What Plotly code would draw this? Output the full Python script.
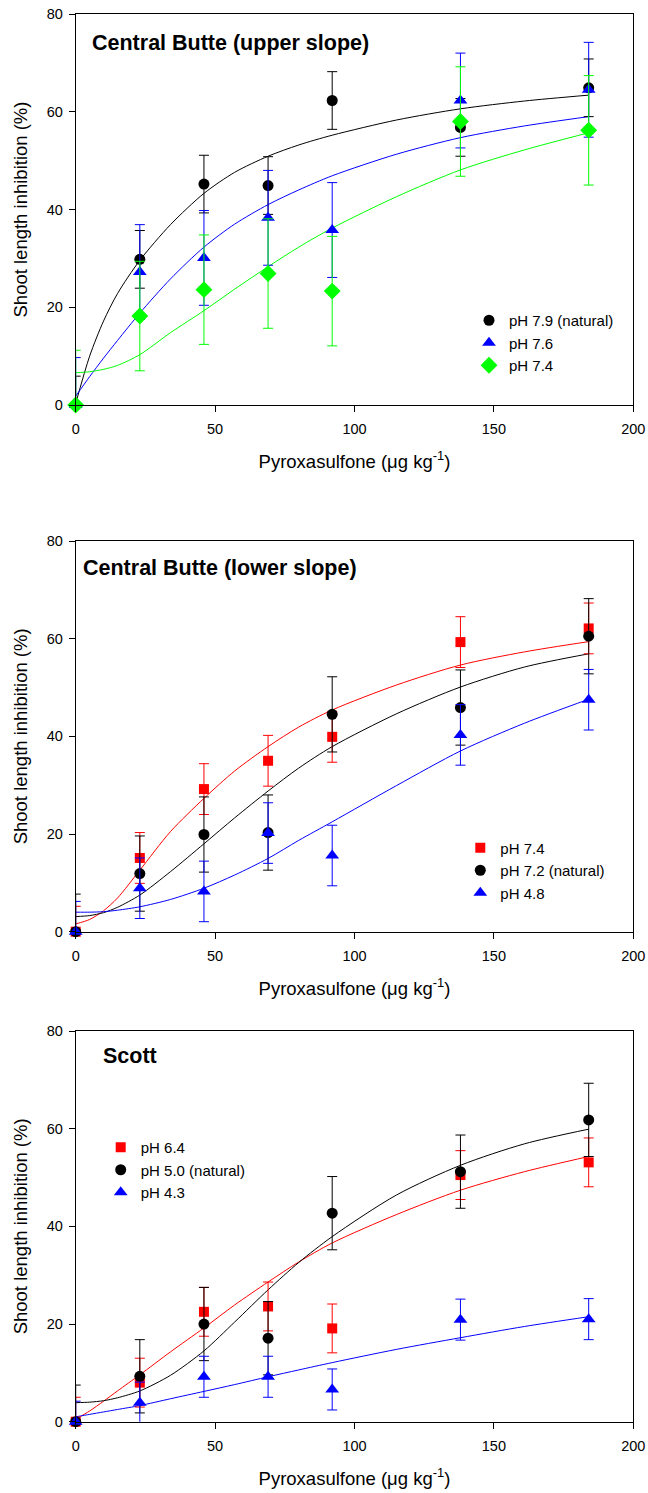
import plotly.graph_objects as go

# ---------------- data ----------------
dose = [0, 23, 46, 69, 92, 138, 184]
tick_x = [0, 50, 100, 150, 200]
tick_y = [0, 20, 40, 60, 80]

# Panel 1: Central Butte (upper slope)
p1_names = ["pH 7.9 (natural)", "pH 7.6", "pH 7.4"]
p1_black = [0, 29.8, 45.2, 44.9, 62.3, 56.8, 64.9]
p1_black_err = [5.9, 5.9, 5.9, 5.9, 5.9, 5.9, 5.9]
p1_blue = [0, 27.2, 30.1, 38.3, 35.8, 62.3, 64.5]
p1_blue_err = [9.7, 9.7, 9.7, 9.7, 9.7, 9.7, 9.7]
p1_green = [0, 18.2, 23.6, 26.9, 23.3, 58.0, 56.2]
p1_green_err = [11.2, 11.2, 11.2, 11.2, 11.2, 11.2, 11.2]

# Panel 2: Central Butte (lower slope)
p2_names = ["pH 7.4", "pH 7.2 (natural)", "pH 4.8"]
p2_red = [0, 15.1, 29.2, 35.0, 39.9, 59.3, 62.1]
p2_red_err = [5.2, 5.2, 5.2, 5.2, 5.2, 5.2, 5.2]
p2_black = [0, 11.9, 19.9, 20.3, 44.5, 45.9, 60.5]
p2_black_err = [7.7, 7.7, 7.7, 7.7, 7.7, 7.7, 7.7]
p2_blue = [0, 8.9, 8.25, 20.2, 15.6, 40.3, 47.5]
p2_blue_err = [6.2, 6.2, 6.2, 6.2, 6.2, 6.2, 6.2]

# Panel 3: Scott
p3_names = ["pH 6.4", "pH 5.0 (natural)", "pH 4.3"]
p3_red = [0, 8.0, 22.5, 23.6, 19.1, 50.5, 53.1]
p3_red_err = [5.0, 5.0, 5.0, 5.0, 5.0, 5.0, 5.0]
p3_black = [0, 9.3, 20.0, 17.1, 42.7, 51.2, 61.8]
p3_black_err = [7.5, 7.5, 7.5, 7.5, 7.5, 7.5, 7.5]
p3_blue = [0, 3.9, 9.2, 9.2, 6.6, 20.9, 21.0]
p3_blue_err = [4.2, 4.2, 4.2, 4.2, 4.2, 4.2, 4.2]

# fitted curves
curve_x = [0, 5, 10, 15, 23, 34, 46, 57, 69, 80, 92, 115, 138, 161, 184]
c1_black = [0.3, 10.0, 17.2, 22.8, 29.6, 36.9, 43.3, 47.6, 50.9, 53.2, 55.2, 58.3, 60.6, 62.2, 63.4]
c1_blue = [1.8, 5.8, 9.6, 13.2, 18.8, 25.8, 32.3, 37.0, 41.0, 44.0, 46.9, 51.3, 54.7, 57.1, 59.0]
c1_green = [6.6, 6.8, 7.3, 8.1, 10.3, 14.8, 19.3, 23.7, 28.3, 32.3, 36.2, 42.6, 48.1, 52.2, 55.7]
c2_red = [1.6, 2.5, 4.3, 6.9, 12.6, 20.5, 27.3, 32.9, 37.9, 41.9, 45.4, 50.5, 54.6, 57.3, 59.4]
c2_black = [3.1, 3.3, 3.9, 5.0, 7.5, 12.3, 18.0, 23.3, 28.8, 33.5, 37.9, 44.6, 50.1, 54.2, 56.9]
c2_blue = [4.0, 4.0, 4.1, 4.4, 5.1, 6.6, 8.9, 11.6, 15.0, 18.7, 22.5, 29.9, 37.0, 42.7, 47.6]
c3_red = [0.5, 2.2, 4.2, 6.3, 9.6, 14.3, 19.2, 23.9, 28.6, 32.7, 36.6, 42.4, 47.4, 51.2, 54.3]
c3_black = [3.9, 4.0, 4.3, 4.9, 6.3, 9.5, 14.5, 20.4, 27.0, 32.6, 37.9, 46.4, 52.5, 56.9, 59.9]
c3_blue = [1.0, 1.5, 2.0, 2.5, 3.3, 4.7, 6.2, 7.6, 9.2, 10.6, 12.1, 14.8, 17.2, 19.5, 21.5]

titles = ["Central Butte (upper slope)", "Central Butte (lower slope)", "Scott"]
x_title = "Pyroxasulfone (\u03bcg kg<sup>-1</sup>)"
y_title = "Shoot length inhibition (%)"

# ---------------- styles ----------------
FONT = "Arial, Liberation Sans, sans-serif"
BLACK, BLUE, GREEN, RED = "#000000", "#0000FF", "#00FF00", "#FF0000"

W, H = 648, 1493
x_dom = [75.7 / W, 633.3 / W]
panel_px = [(14, 405), (541, 931.7), (1031, 1421.7)]
y_doms = [[1 - b / H, 1 - t / H] for (t, b) in panel_px]

fig = go.Figure()

def add_series(n, y, err, color, symbol, size, name, legend):
    xa = "x" if n == 1 else f"x{n}"
    ya = "y" if n == 1 else f"y{n}"
    fig.add_trace(go.Scatter(
        x=dose, y=y, mode="markers", xaxis=xa, yaxis=ya,
        marker=dict(size=1, color="rgba(0,0,0,0)"),
        error_y=dict(type="data", array=err, visible=True, color=color,
                     thickness=1, width=5),
        showlegend=False, hoverinfo="skip", cliponaxis=True))
    fig.add_trace(go.Scatter(
        x=dose, y=y, mode="markers", xaxis=xa, yaxis=ya, name=name,
        marker=dict(symbol=symbol, size=size, color=color, line=dict(width=0)),
        legend=legend, cliponaxis=False))

def add_curve(n, y, color):
    xa = "x" if n == 1 else f"x{n}"
    ya = "y" if n == 1 else f"y{n}"
    fig.add_trace(go.Scatter(
        x=curve_x, y=y, mode="lines", xaxis=xa, yaxis=ya,
        line=dict(color=color, width=1, shape="spline", smoothing=0.8),
        showlegend=False, hoverinfo="skip"))

add_curve(1, c1_black, BLACK)
add_curve(1, c1_blue, BLUE)
add_curve(1, c1_green, GREEN)
add_series(1, p1_black, p1_black_err, BLACK, "circle", 11, p1_names[0], "legend")
add_series(1, p1_blue, p1_blue_err, BLUE, "triangle-up", 12, p1_names[1], "legend")
add_series(1, p1_green, p1_green_err, GREEN, "diamond", 13, p1_names[2], "legend")

add_curve(2, c2_red, RED)
add_curve(2, c2_black, BLACK)
add_curve(2, c2_blue, BLUE)
add_series(2, p2_red, p2_red_err, RED, "square", 10, p2_names[0], "legend2")
add_series(2, p2_black, p2_black_err, BLACK, "circle", 11, p2_names[1], "legend2")
add_series(2, p2_blue, p2_blue_err, BLUE, "triangle-up", 12, p2_names[2], "legend2")

add_curve(3, c3_red, RED)
add_curve(3, c3_black, BLACK)
add_curve(3, c3_blue, BLUE)
add_series(3, p3_red, p3_red_err, RED, "square", 10, p3_names[0], "legend3")
add_series(3, p3_black, p3_black_err, BLACK, "circle", 11, p3_names[1], "legend3")
add_series(3, p3_blue, p3_blue_err, BLUE, "triangle-up", 12, p3_names[2], "legend3")

axis_common = dict(showline=True, linecolor="black", linewidth=1, mirror=True,
                   ticks="outside", ticklen=6, tickcolor="black", tickwidth=1,
                   showgrid=False, zeroline=False, automargin=False,
                   tickfont=dict(family=FONT, size=14.5, color="black"))

layout = dict(template="none", width=W, height=H, margin=dict(l=0, r=0, t=0, b=0),
              paper_bgcolor="white", plot_bgcolor="white", hovermode=False,
              font=dict(family=FONT, color="black"), annotations=[])

legend_pos = [(469 / W, 1 - 304 / H), (460.3 / W, 1 - 831.5 / H), (100.7 / W, 1 - 1131 / H)]
title_pos = [(90.0, 43.3), (81.0, 568.3), (100.8, 1056)]

for i in range(3):
    sfx = "" if i == 0 else str(i + 1)
    layout["xaxis" + sfx] = dict(axis_common, domain=x_dom, range=[0, 200],
                                  tickvals=tick_x, anchor="y" + sfx,
                                  ticklabelstandoff=5,
                                  title=dict(text=x_title, standoff=18,
                                             font=dict(family=FONT, size=18.5, color="black")))
    layout["yaxis" + sfx] = dict(axis_common, domain=y_doms[i], range=[0, 80],
                                  tickvals=tick_y, anchor="x" + sfx,
                                  ticklabelstandoff=3,
                                  title=dict(text=y_title, standoff=14,
                                             font=dict(family=FONT, size=18.5, color="black")))
    lx, ly = legend_pos[i]
    layout["legend" + sfx] = dict(x=lx, y=ly, xanchor="left", yanchor="top",
                                   bgcolor="rgba(0,0,0,0)", borderwidth=0,
                                   font=dict(family=FONT, size=15, color="black"),
                                   tracegroupgap=0, itemsizing="trace")
    tx, ty = title_pos[i]
    layout["annotations"].append(dict(
        text="<b>" + titles[i] + "</b>", x=tx / W, y=1 - ty / H,
        xref="paper", yref="paper", xanchor="left", yanchor="middle",
        showarrow=False, font=dict(family=FONT, size=21.5, color="black")))

fig.update_layout(**layout)
fig.write_html("out.html", config={"displayModeBar": False, "staticPlot": True},
               post_script="document.body.style.margin='0px';document.body.style.overflow='hidden';")
